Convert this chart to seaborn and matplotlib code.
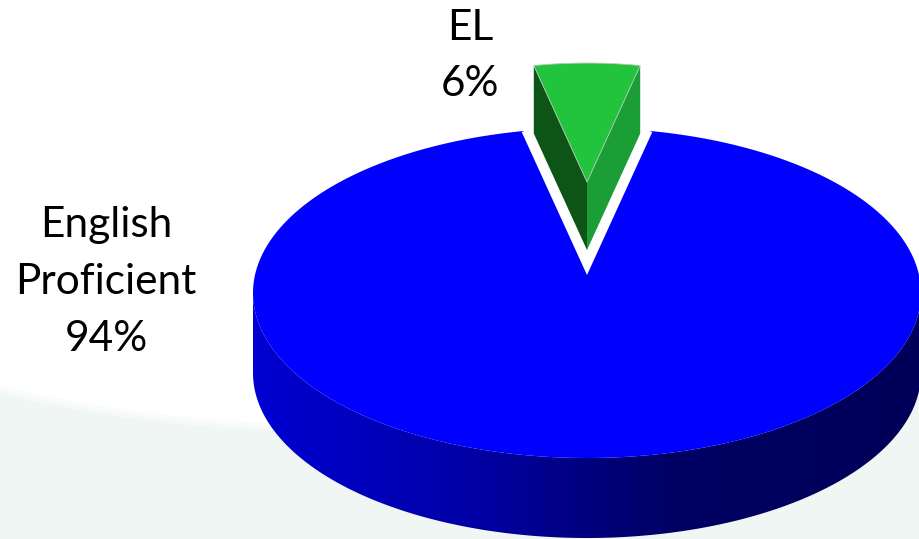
import numpy as np
import matplotlib
matplotlib.use("Agg")
import matplotlib.pyplot as plt
import seaborn as sns
from matplotlib.patches import Polygon, Ellipse
from matplotlib.colors import LinearSegmentedColormap

# ---- data ----
categories = ["English\nProficient", "EL"]
shares = [94, 6]
slice_colors = ["#0000ff", "#22c43e"]

sns.set_theme(style="white")
plt.rcParams['font.family'] = ['Lato', 'DejaVu Sans']

W, H = 919, 539
fig = plt.figure(figsize=(W / 100, H / 100), dpi=100)
fig.patch.set_facecolor("#f0f6f3")
ax = fig.add_axes([0, 0, 1, 1])
ax.set_xlim(0, W)
ax.set_ylim(H, 0)
ax.axis("off")
ax.set_facecolor("none")

# background glow
for i, a in enumerate([0.35, 0.6, 1.0]):
    ax.add_patch(Ellipse((350, 130), 1400 + 16 * (2 - i), 590 + 8 * (2 - i),
                         facecolor="white", edgecolor="none", alpha=a, zorder=0))

# ---- pie geometry ----
cx, cy, rx, ry, depth = 587, 293, 334, 165, 80
tip = (cx, cy - 25)
k, Y0 = 0.85, -305  # perspective shrink of exploded slice


def ell(t, dy=0.0):
    t = np.radians(t)
    return np.column_stack([cx + rx * np.cos(t), cy - ry * np.sin(t) + dy])


half = shares[1] / sum(shares) * 180.0  # EL slice half-angle, centred at top
t0, t1 = 90 + half, 450 - half

# side wall of the large slice (front half)
tt = np.linspace(180, 360, 300)
wall = np.vstack([ell(tt), ell(tt[::-1], depth)])
wall_patch = Polygon(wall, closed=True, facecolor="none", edgecolor="none", zorder=2)
ax.add_patch(wall_patch)
cmap = LinearSegmentedColormap.from_list(
    "side", [(0.0, (0, 0, 210 / 255)), (0.33, (0, 0, 165 / 255)),
             (0.62, (0, 0, 100 / 255)), (1.0, (0, 0, 88 / 255))])
grad = np.linspace(0, 1, 512).reshape(1, -1)
im = ax.imshow(grad, cmap=cmap, aspect="auto",
               extent=[cx - rx, cx + rx, cy + ry + depth + 2, cy - 5], zorder=2)
im.set_clip_path(wall_patch)

# exploded EL slice
def shrink(p):
    p = np.asarray(p, dtype=float)
    return np.column_stack([cx + (p[:, 0] - cx) * k, Y0 + (p[:, 1] - Y0) * k])

ta = np.linspace(90 - half, 90 + half, 60)
arc = ell(ta)
tip_top = np.array([tip])
tip_bot = np.array([[tip[0], tip[1] + depth]])
pL, pR = arc[-1:], arc[:1]
left_face = shrink(np.vstack([pL, pL + [0, depth], tip_bot, tip_top]))
right_face = shrink(np.vstack([pR, pR + [0, depth], tip_bot, tip_top]))
top_face = shrink(np.vstack([tip_top, arc]))
ax.add_patch(Polygon(left_face, closed=True, facecolor="#0d5517", edgecolor="none", zorder=3))
ax.add_patch(Polygon(right_face, closed=True, facecolor="#1a9e35", edgecolor="none", zorder=3))
ax.add_patch(Polygon(top_face, closed=True, facecolor=slice_colors[1],
                     edgecolor="#b8c8b8", linewidth=0.6, zorder=3))

# top face of the large slice
tb = np.linspace(t0, t1, 600)
top_big = np.vstack([ell(tb), [tip]])
ax.add_patch(Polygon(top_big, closed=True, facecolor=slice_colors[0], edgecolor="none", zorder=4))
notch = np.vstack([ell([t0]), [tip], ell([t1])])
ax.plot(notch[:, 0], notch[:, 1], color="white", lw=4.2, solid_joinstyle="miter",
        solid_capstyle="butt", zorder=5)

# ---- labels ----
label_pos = [(106, 282), (470, 56)]
for cat, s, (lx, ly) in zip(categories, shares, label_pos):
    ax.text(lx, ly, f"{cat}\n{s}%", ha="center", va="center", fontsize=30.5,
            color="black", linespacing=1.6, zorder=6)

fig.savefig("out.png", dpi=100, facecolor=fig.get_facecolor())
